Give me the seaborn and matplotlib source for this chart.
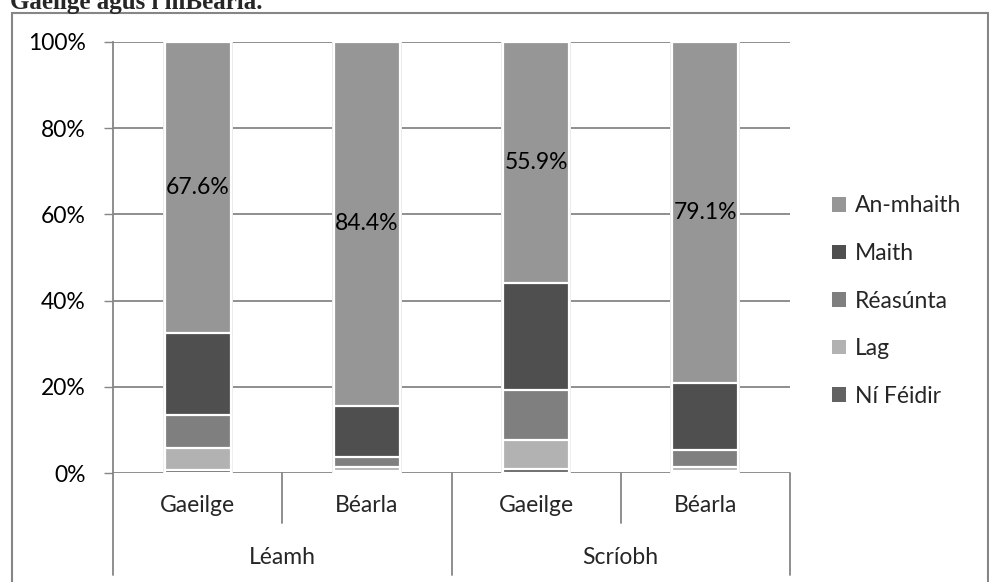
import matplotlib
matplotlib.use("Agg")
import matplotlib.pyplot as plt
import matplotlib.transforms as mtransforms
from matplotlib.patches import Patch, Rectangle
import seaborn as sns
import pandas as pd
import numpy as np

# ---- data ----
groups = ["Léamh", "Léamh", "Scríobh", "Scríobh"]
languages = ["Gaeilge", "Béarla", "Gaeilge", "Béarla"]
series_names = ["Ní Féidir", "Lag", "Réasúnta", "Maith", "An-mhaith"]
ni_feidir = [0.7, 0.5, 1.0, 0.5]
lag = [5.0, 1.0, 6.6, 0.8]
reasunta = [7.7, 2.3, 11.7, 4.0]
maith = [19.0, 11.8, 24.8, 15.6]
an_mhaith = [67.6, 84.4, 55.9, 79.1]
y_ticks = [0, 20, 40, 60, 80, 100]
y_tick_labels = ["0%", "20%", "40%", "60%", "80%", "100%"]
title_text = "Gaeilge agus i mBéarla."

colors = {
    "Ní Féidir": "#626262",
    "Lag": "#b2b2b2",
    "Réasúnta": "#7f7f7f",
    "Maith": "#4f4f4f",
    "An-mhaith": "#969696",
}

sns.set_theme(style="white")
plt.rcParams["font.family"] = ["Lato", "DejaVu Sans"]

W, H = 989, 582
fig = plt.figure(figsize=(W / 100, H / 100), dpi=100)
ax = fig.add_axes([113 / W, (H - 473) / H, 677 / W, 431 / H])

bar_ids = [f"{g}|{l}" for g, l in zip(groups, languages)]
values = [ni_feidir, lag, reasunta, maith, an_mhaith]
df = pd.DataFrame({"bar": bar_ids})
cum = np.zeros(len(bar_ids))
cums = []
for name, vals in zip(series_names, values):
    cum = cum + np.array(vals)
    cums.append(cum.copy())
    df[name] = cum.copy()

# faint shadow behind the bars
sns.barplot(data=df, x="bar", y=series_names[-1], order=bar_ids,
            color="#e9e9e9", saturation=1, width=0.415, linewidth=0,
            errorbar=None, ax=ax, zorder=2.5)

# draw cumulative bars from the top segment downward
for name in reversed(series_names):
    sns.barplot(data=df, x="bar", y=name, order=bar_ids, color=colors[name],
                saturation=1, width=0.39, edgecolor="white", linewidth=1.6,
                errorbar=None, ax=ax, zorder=3)

# labels for An-mhaith
for i, v in enumerate(an_mhaith):
    base = cums[3][i]
    ax.text(i, base + v / 2, f"{v:.1f}%", ha="center", va="center",
            fontsize=16.5, color="black", zorder=5)

gray = "#868686"
ax.set_xlim(-0.5, len(bar_ids) - 0.5)
ax.set_ylim(0, 100)
ax.set_yticks(y_ticks)
ax.set_yticklabels(y_tick_labels, fontsize=16.5, color="black")
ax.set_xticks([])
ax.set_xlabel("")
ax.set_ylabel("")
ax.yaxis.grid(True, color=gray, linewidth=1.3)
ax.set_axisbelow(True)
ax.tick_params(axis="y", left=True, length=6.5, width=1.0, color=gray, pad=13)
for s in ["top", "right", "bottom"]:
    ax.spines[s].set_visible(False)
ax.spines["left"].set_color(gray)
ax.spines["left"].set_linewidth(1.3)

# category axis (two levels)
trans = mtransforms.blended_transform_factory(ax.transData, ax.transAxes)
low1 = (473 - 523) / 431
low2 = (473 - 575) / 431
n = len(bar_ids)
for k in range(n + 1):
    xb = k - 0.5
    is_group_edge = (k == 0 or k == n or groups[k - 1] != groups[k])
    ax.plot([xb, xb], [0, low2 if is_group_edge else low1], color=gray,
            lw=1.3, transform=trans, clip_on=False)
for i, l in enumerate(languages):
    ax.text(i, (473 - 506) / 431, l, ha="center", va="center", fontsize=16.5,
            transform=trans)
uniq = []
for g in groups:
    if g not in uniq:
        uniq.append(g)
for g in uniq:
    idx = [i for i, gg in enumerate(groups) if gg == g]
    ax.text(np.mean(idx), (473 - 557) / 431, g, ha="center", va="center",
            fontsize=16.5, transform=trans)

# legend
handles = [Patch(facecolor=colors[nm], edgecolor="none", label=nm)
           for nm in reversed(series_names)]
fig.legend(handles=handles, loc="center left",
           bbox_to_anchor=(832 / W, (H - 301) / H), frameon=False,
           fontsize=16.5, handlelength=0.6, handleheight=0.6,
           handletextpad=0.4, labelspacing=1.16, borderpad=0, borderaxespad=0)

# chart border
fig.patches.append(Rectangle((11.5 / W, -0.1), (988 - 11.5) / W,
                             1.1 - 12.5 / H, transform=fig.transFigure,
                             fill=False, edgecolor=gray, lw=1.5))

# title fragment, cut by the top edge as in the source page
fig.text(263 / W, (H - 8.7) / H, title_text, ha="right", va="baseline",
         fontsize=18, fontweight="bold", family="Liberation Serif")

fig.savefig("out.png", dpi=100)
